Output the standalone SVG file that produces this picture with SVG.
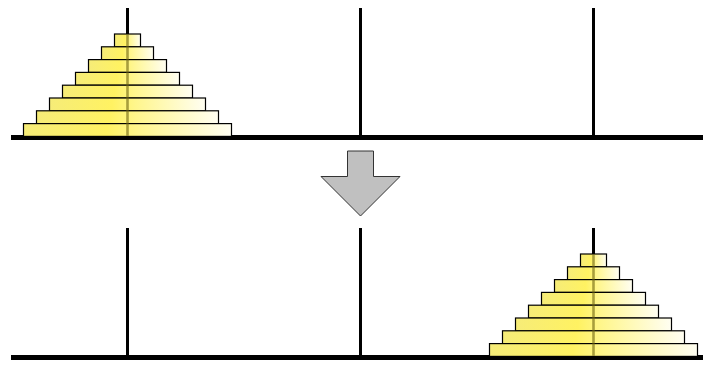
<svg xmlns="http://www.w3.org/2000/svg" width="703" height="365" viewBox="0 0 703 365">
<style>
.peg{fill:#000}
.base{fill:#000}
.disk{fill:url(#dg);stroke:#000;stroke-width:1.2}
.ghost{stroke:#6e6410;stroke-opacity:0.6;stroke-width:2.6}
.arrow{fill:#c0c0c0;stroke:#333;stroke-width:1}
</style>
<defs>
<linearGradient id="dg" x1="0" y1="0" x2="1" y2="0">
<stop offset="0" stop-color="#f6ec78"/>
<stop offset="0.4" stop-color="#fff262"/>
<stop offset="0.55" stop-color="#fff68c"/>
<stop offset="1" stop-color="#fffef2"/>
</linearGradient>
</defs>
<rect width="703" height="365" fill="#fff"/>
<g id="top-row">
<rect class="base" x="11" y="135" width="233" height="5"/>
<rect class="base" x="244" y="135" width="233" height="5"/>
<rect class="base" x="477" y="135" width="226" height="5"/>
<rect class="peg" x="126" y="8" width="3" height="128"/>
<rect class="peg" x="359" y="8" width="3" height="128"/>
<rect class="peg" x="592" y="8" width="3" height="128"/>
</g>
<g id="tower-top">
<rect class="disk" x="114.5" y="34" width="26" height="12.8"/>
<rect class="disk" x="101.5" y="46.8" width="52" height="12.8"/>
<rect class="disk" x="88.5" y="59.6" width="78" height="12.8"/>
<rect class="disk" x="75.5" y="72.4" width="104" height="12.8"/>
<rect class="disk" x="62.5" y="85.2" width="130" height="12.8"/>
<rect class="disk" x="49.5" y="98" width="156" height="12.8"/>
<rect class="disk" x="36.5" y="110.8" width="182" height="12.8"/>
<rect class="disk" x="23.5" y="123.6" width="208" height="12.8"/>
<line class="ghost" x1="127.5" y1="34.6" x2="127.5" y2="135.8"/>
</g>
<g id="move-arrow">
<polygon class="arrow" points="347.5,151 373.5,151 373.5,176.5 400,176.5 360.5,216 321,176.5 347.5,176.5"/>
</g>
<g id="bottom-row">
<rect class="base" x="11" y="355" width="233" height="5"/>
<rect class="base" x="244" y="355" width="233" height="5"/>
<rect class="base" x="477" y="355" width="226" height="5"/>
<rect class="peg" x="126" y="228" width="3" height="128"/>
<rect class="peg" x="359" y="228" width="3" height="128"/>
<rect class="peg" x="592" y="228" width="3" height="128"/>
</g>
<g id="tower-bottom">
<rect class="disk" x="580.5" y="254" width="26" height="12.8"/>
<rect class="disk" x="567.5" y="266.8" width="52" height="12.8"/>
<rect class="disk" x="554.5" y="279.6" width="78" height="12.8"/>
<rect class="disk" x="541.5" y="292.4" width="104" height="12.8"/>
<rect class="disk" x="528.5" y="305.2" width="130" height="12.8"/>
<rect class="disk" x="515.5" y="318" width="156" height="12.8"/>
<rect class="disk" x="502.5" y="330.8" width="182" height="12.8"/>
<rect class="disk" x="489.5" y="343.6" width="208" height="12.8"/>
<line class="ghost" x1="593.5" y1="254.6" x2="593.5" y2="355.8"/>
</g>
</svg>
